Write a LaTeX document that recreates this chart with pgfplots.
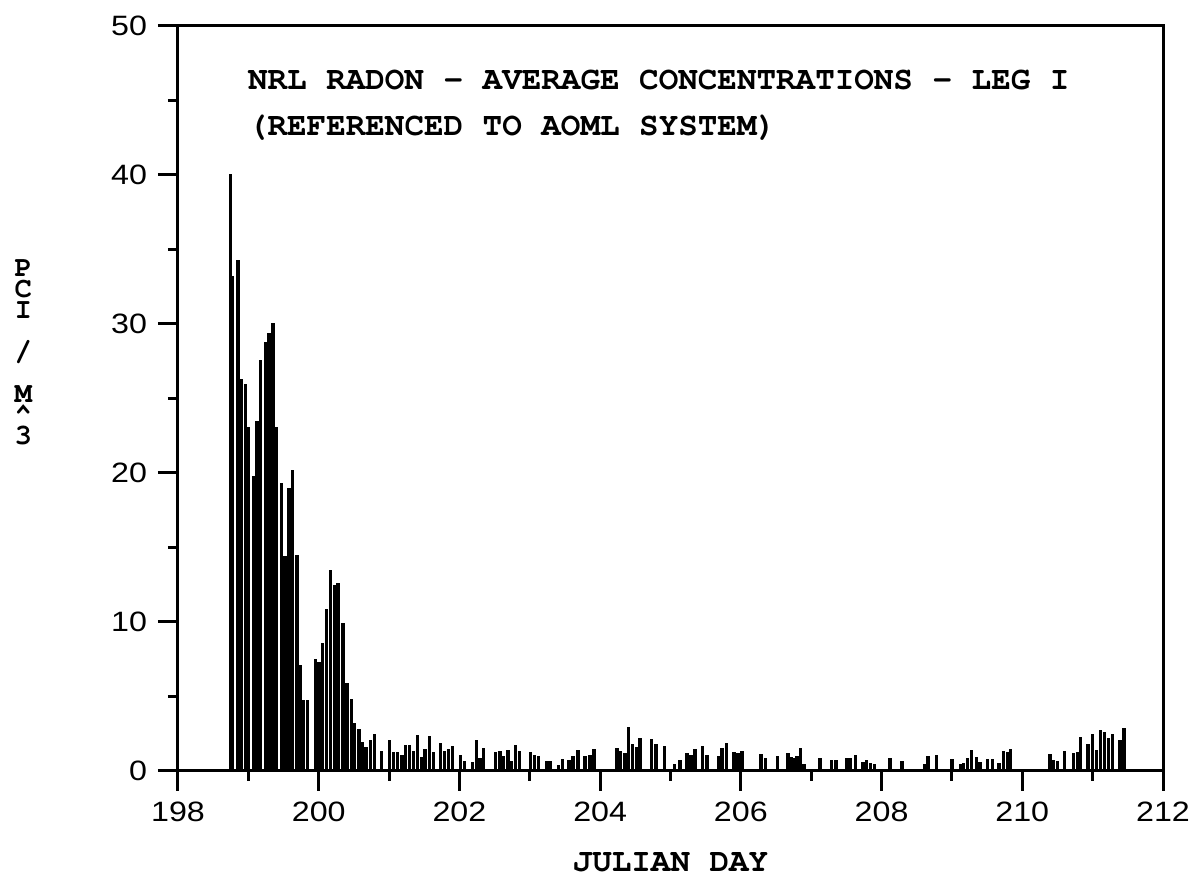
\documentclass[border=0pt]{standalone}
\usepackage[T1]{fontenc}
\usepackage{fontspec}
\setmainfont{Liberation Mono}
\newfontfamily\tickfont{Liberation Sans}[FakeStretch=1.15]
\newcommand\cour{\fontencoding{T1}\fontfamily{pcr}\fontseries{b}\selectfont}
\usepackage{pgfplots}
\pgfplotsset{compat=1.18}

\begin{document}
\begin{tikzpicture}
\path[use as bounding box] (-89pt,-53pt) rectangle (508pt,385.5pt);
\begin{axis}[
  at={(0,0)}, anchor=south west,
  scale only axis,
  width=492.5pt, height=372.5pt,
  xmin=198, xmax=212, ymin=0, ymax=50,
  xtick={198,200,...,212}, minor xtick={199,201,...,211},
  ytick={0,10,...,50}, minor ytick={5,15,...,45},
  tick pos=left,
  tick align=outside,
  major tick length=10pt, minor tick length=5pt,
  axis line style={line width=1.5pt},
  tick style={line width=1.5pt, black},
  minor tick style={line width=1.5pt, black},
  /pgf/number format/assume math mode=true,
  ticklabel style={font=\tickfont\fontsize{14}{14}\selectfont},
  xticklabel style={yshift=-2pt},
  yticklabel style={xshift=-2pt},
  xlabel={JULIAN DAY},
  xlabel style={at={(rel axis cs:0.5,0)}, anchor=center, yshift=-46pt,
    font=\cour\fontsize{16.3}{16.3}\selectfont},
  clip=false,
]
% hourly-ish averages
\addplot[ycomb, black, line width=1.7pt, mark=none] coordinates {
(198.744,40.1) (198.778,33.2) (198.850,34.3) (198.899,26.3) (198.957,26.0)
(198.995,23.1) (199.072,19.8) (199.121,23.5) (199.169,27.6) (199.242,28.8)
(199.295,29.4) (199.353,30.05) (199.401,23.1) (199.469,19.3) (199.522,14.4)
(199.575,19.0) (199.628,20.2) (199.690,14.5) (199.738,7.1) (199.786,4.75)
(199.843,4.75) (199.952,7.5) (200.005,7.3) (200.052,8.6) (200.110,10.9)
(200.167,13.5) (200.224,12.5) (200.276,12.6) (200.343,9.9) (200.400,5.9)
(200.462,4.8) (200.505,3.25) (200.571,2.85) (200.624,1.95) (200.671,1.6)
(200.738,2.1) (200.790,2.45) (200.895,1.35) (201.010,2.05) (201.067,1.3)
(201.124,1.3) (201.186,1.05) (201.233,1.75) (201.290,1.75) (201.343,1.35)
(201.405,2.4) (201.462,0.95) (201.510,1.45) (201.576,2.35) (201.629,1.3)
(201.729,1.9) (201.790,1.35) (201.848,1.45) (201.905,1.7) (202.014,1.1)
(202.071,0.7) (202.186,0.6) (202.243,2.05) (202.295,0.9) (202.343,1.55)
(202.514,1.3) (202.576,1.35) (202.629,1.0) (202.690,1.4) (202.743,0.7)
(202.800,1.75) (202.857,1.35) (203.010,1.25) (203.067,1.05) (203.124,1.0)
(203.238,0.65) (203.286,0.65) (203.409,0.43) (203.466,0.8) (203.560,0.76)
(203.617,1.0) (203.688,1.43) (203.787,1.0) (203.853,1.1) (203.915,1.45)
(204.241,1.52) (204.293,1.32) (204.355,1.23) (204.407,2.95) (204.459,1.83)
(204.520,1.63) (204.567,2.24) (204.733,2.17) (204.794,1.83) (204.913,1.7)
(205.054,0.5) (205.135,0.76) (205.234,1.2) (205.291,1.1) (205.348,1.45)
(205.456,1.7) (205.518,1.07) (205.678,1.0) (205.730,1.54) (205.792,1.9)
(205.901,1.27) (205.962,1.2) (206.019,1.34) (206.284,1.16) (206.350,0.87)
(206.520,1.03) (206.668,1.2) (206.716,0.94) (206.758,0.87) (206.796,1.03)
(206.848,1.54) (206.896,0.45) (207.123,0.87) (207.284,0.76) (207.351,0.72)
(207.502,0.9) (207.550,0.9) (207.626,1.07) (207.735,0.58) (207.787,0.72)
(207.844,0.54) (207.900,0.45) (208.118,0.9) (208.289,0.65) (208.611,0.5)
(208.659,1.03) (208.782,1.07) (209.000,0.83) (209.123,0.45) (209.166,0.56)
(209.223,0.87) (209.280,1.39) (209.346,0.94) (209.398,0.58) (209.507,0.8)
(209.573,0.83) (209.668,0.56) (209.735,1.32) (209.796,1.27) (209.834,1.45)
(210.393,1.12) (210.441,0.76) (210.498,0.65) (210.602,1.34) (210.725,1.2)
(210.782,1.27) (210.829,2.28) (210.934,1.83) (210.995,2.46) (211.057,1.43)
(211.114,2.77) (211.171,2.62) (211.227,2.24) (211.284,2.5) (211.389,2.1)
(211.445,2.9)
};
\node[anchor=west, inner sep=0pt, font=\cour\fontsize{16.3}{16.3}\selectfont]
  at (axis cs:198.99,46.4) {NRL RADON - AVERAGE CONCENTRATIONS - LEG I};
\node[anchor=west, inner sep=0pt, font=\cour\fontsize{16.3}{16.3}\selectfont]
  at (axis cs:198.99,43.2) {(REFERENCED TO AOML SYSTEM)};
% stacked y label, one character per line
\begin{scope}[every node/.style={anchor=base, inner sep=0pt, font=\cour\fontsize{14.5}{14.5}\selectfont}]
\node at (rel axis cs:-0.157,0.6635) {P};
\node at (rel axis cs:-0.157,0.6353) {C};
\node at (rel axis cs:-0.157,0.6071) {I};
\node at (rel axis cs:-0.157,0.5507) {/};
\node at (rel axis cs:-0.157,0.4944) {M};
\node at (rel axis cs:-0.157,0.4662) {\textasciicircum};
\node at (rel axis cs:-0.157,0.4380) {3};
\end{scope}
\end{axis}
\end{tikzpicture}
\end{document}
